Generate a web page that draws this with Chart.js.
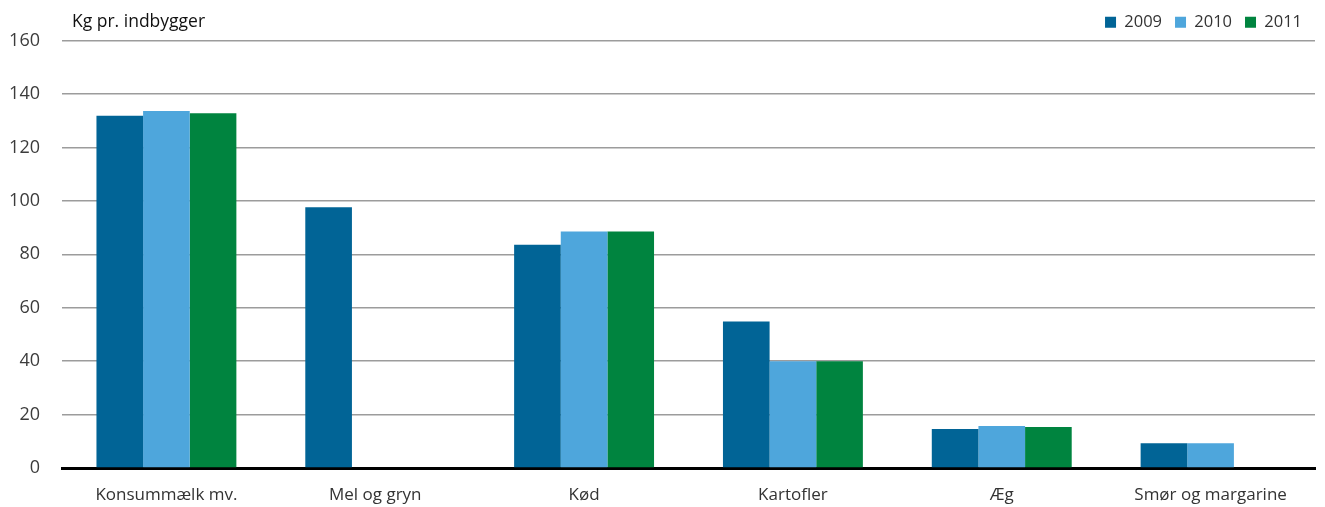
<!DOCTYPE html>
<html>
<head>
<meta charset="utf-8">
<script src="https://cdn.jsdelivr.net/npm/chart.js@4"></script>
<style>
  body { margin: 0; background: #fff; }
  #wrap { width: 1325px; height: 507px; }
</style>
</head>
<body>
<div id="wrap"><canvas id="foodChart"></canvas></div>
<script>
// Forbrug af fødevarer, kg pr. indbygger
const categories = ["Konsummælk mv.", "Mel og gryn", "Kød", "Kartofler", "Æg", "Smør og margarine"];
const years = ["2009", "2010", "2011"];
const values2009 = [131.8, 97.6, 83.6, 54.8, 14.6, 9.3];
const values2010 = [133.6, null, 88.5, 40.0, 15.7, 9.3];
const values2011 = [132.8, null, 88.5, 40.0, 15.3, null];
const yTicks = [0, 20, 40, 60, 80, 100, 120, 140, 160];

const colors = ["#016496", "#4ea6dc", "#00843f"];
const FONT = "'Open Sans', sans-serif";

// axis caption top-left
const captionPlugin = {
    id: "caption",
    afterDraw(chart) {
        const c = chart.ctx;
        c.save();
        c.font = "17.5px " + FONT;
        c.fillStyle = "#111";
        c.textBaseline = "middle";
        c.fillText("Kg pr. indbygger", 72, 22);
        c.restore();
    }
};

document.addEventListener("DOMContentLoaded", function () {
    const ctx = document.getElementById("foodChart").getContext("2d");

    new Chart(ctx, {
        type: "bar",
        data: {
            labels: categories,
            datasets: [values2009, values2010, values2011].map(function (vals, i) {
                return {
                    label: years[i],
                    data: vals,
                    backgroundColor: colors[i],
                    borderWidth: 0,
                    categoryPercentage: 0.67,
                    barPercentage: 1.0
                };
            })
        },
        options: {
            responsive: true,
            maintainAspectRatio: false,
            animation: false,
            layout: { padding: { top: 1, right: 10, bottom: 0, left: 0 } },
            plugins: {
                legend: {
                    position: "top",
                    align: "end",
                    labels: {
                        boxWidth: 11,
                        boxHeight: 11,
                        padding: 13,
                        color: "#333",
                        font: { family: FONT, size: 16.5 }
                    }
                },
                tooltip: { enabled: false }
            },
            scales: {
                x: {
                    afterFit: function (axis) { axis.height = 39; },
                    grid: { display: false, drawTicks: false },
                    border: { display: true, color: "#000", width: 3 },
                    ticks: {
                        padding: 17,
                        color: "#333",
                        font: { family: FONT, size: 17 }
                    }
                },
                y: {
                    min: 0,
                    max: 160,
                    afterBuildTicks: function (axis) {
                        axis.ticks = yTicks.map(function (v) { return { value: v }; });
                    },
                    afterFit: function (axis) { axis.width = 62; },
                    grid: {
                        color: "#9c9c9c",
                        lineWidth: 1.5,
                        drawTicks: false
                    },
                    border: { display: false },
                    ticks: {
                        padding: 22,
                        color: "#3c3c3c",
                        font: { family: FONT, size: 18 }
                    }
                }
            }
        },
        plugins: [captionPlugin]
    });
});
</script>
</body>
</html>
